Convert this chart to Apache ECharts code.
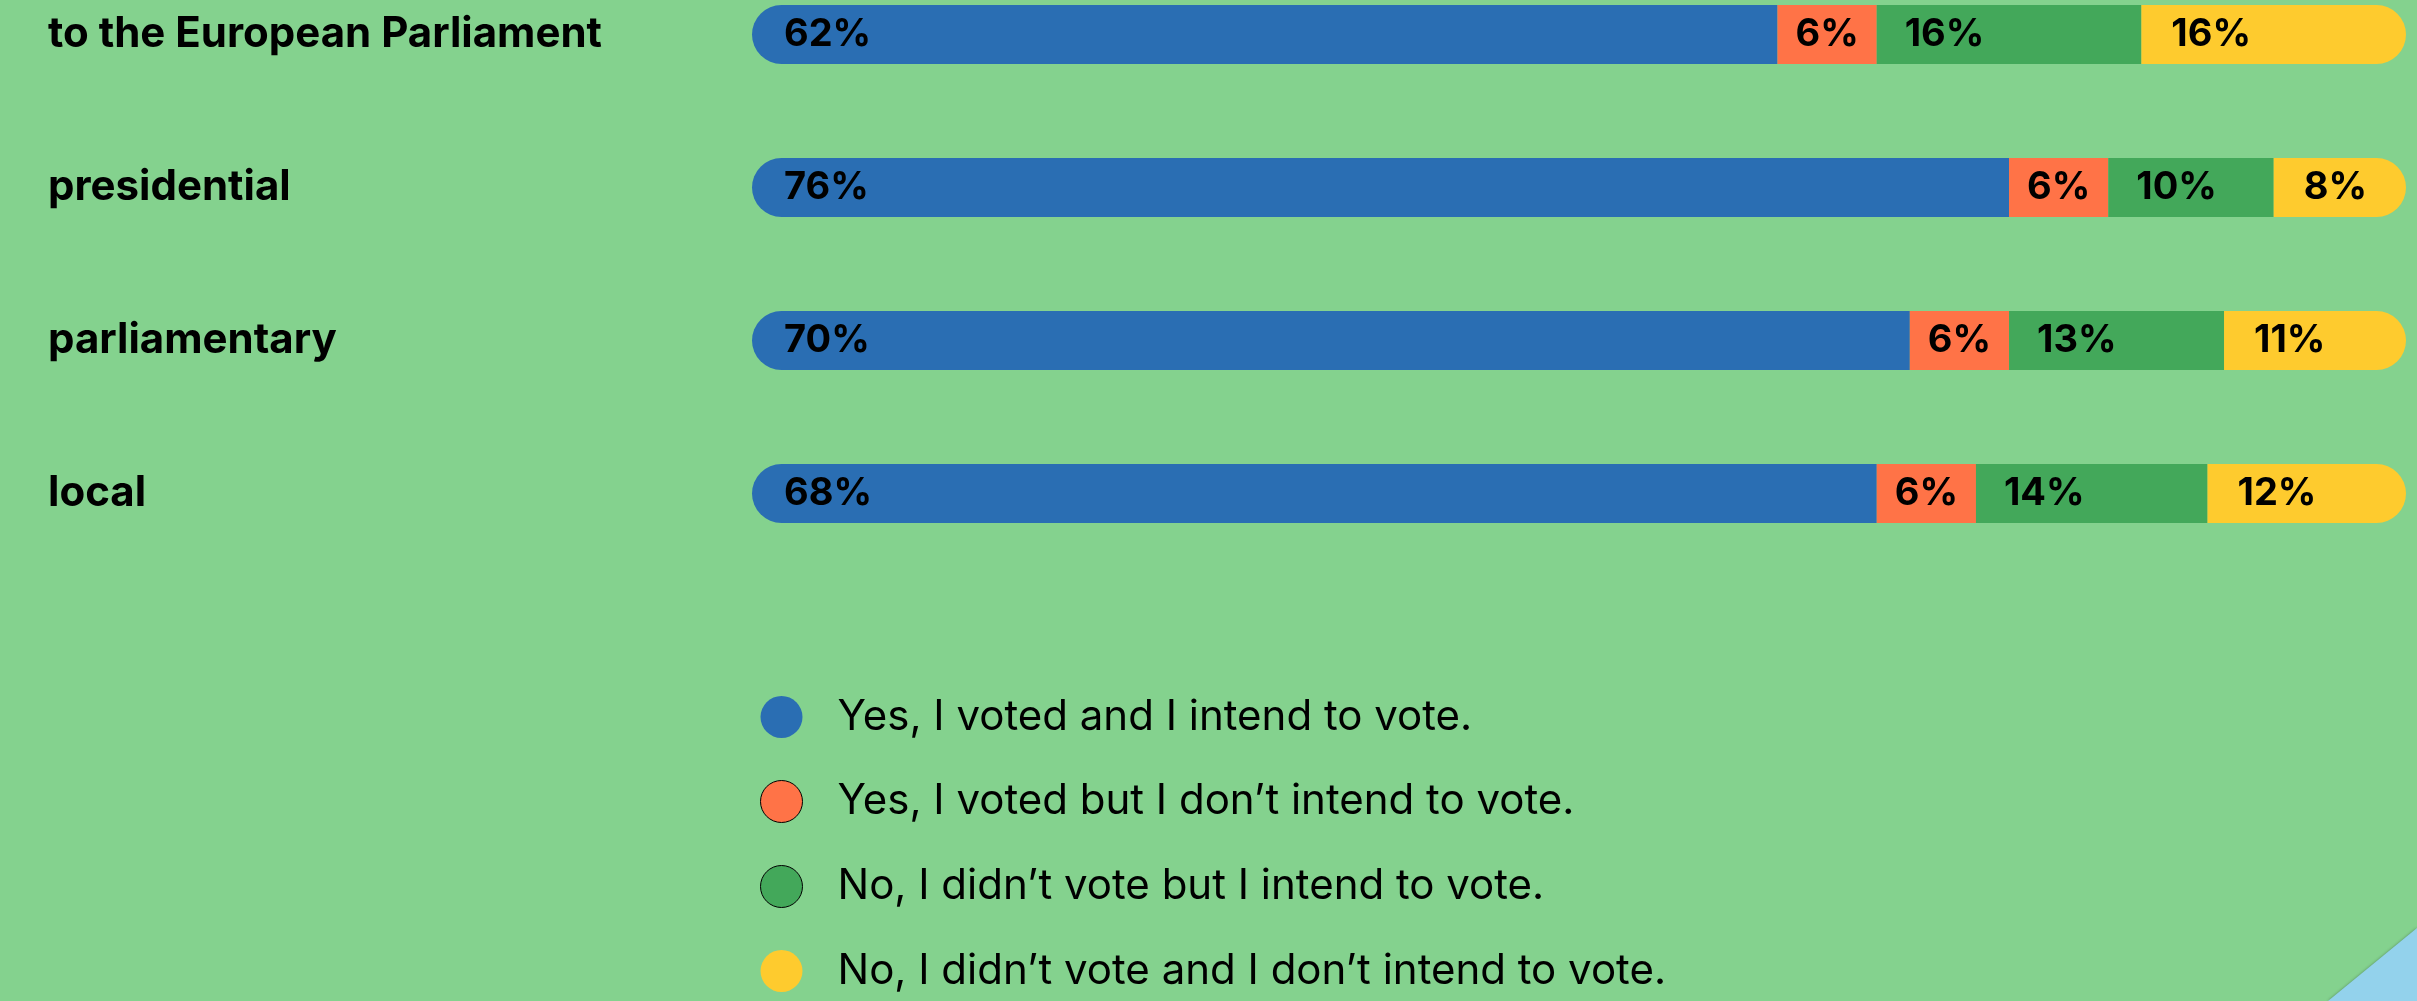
<!DOCTYPE html>
<html>
<head>
<meta charset="utf-8">
<script src="https://cdn.jsdelivr.net/npm/echarts@6/dist/echarts.min.js"></script>
<style>
html,body{margin:0;padding:0;background:#84D28E;}
#chart{width:2417px;height:1001px;}
</style>
</head>
<body>
<div id="chart"></div>
<script>
var categories = ['to the European Parliament', 'presidential', 'parliamentary', 'local'];
var seriesNames = [
  'Yes, I voted and I intend to vote.',
  'Yes, I voted but I don\u2019t intend to vote.',
  'No, I didn\u2019t vote but I intend to vote.',
  'No, I didn\u2019t vote and I don\u2019t intend to vote.'
];
var votedIntend = [62, 76, 70, 68];
var votedNotIntend = [6, 6, 6, 6];
var notVotedIntend = [16, 10, 13, 14];
var notVotedNotIntend = [16, 8, 11, 12];

var colors = ['#2A6EB3', '#FF7347', '#43A85A', '#FECB2E'];
var FONT = 'Inter, "Open Sans", sans-serif';

function mkLabel(dist) {
  return {
    show: true,
    position: 'insideLeft',
    distance: dist,
    formatter: '{c}%',
    color: '#000',
    fontFamily: FONT,
    fontWeight: 'bold',
    fontSize: 38
  };
}

var chart = echarts.init(document.getElementById('chart'));
chart.setOption({
  backgroundColor: '#84D28E',
  animation: false,
  graphic: [{
    type: 'polygon',
    shape: { points: [[2328, 1001], [2417, 928], [2417, 1001]] },
    style: { fill: '#93D2EC', shadowBlur: 3, shadowColor: 'rgba(0,0,0,0.35)' },
    z: 0
  }],
  grid: {
    left: 752,
    right: 11,
    top: -42,
    height: 612,
    containLabel: false,
    outerBoundsMode: 'none'
  },
  legend: {
    orient: 'vertical',
    left: 760,
    top: 696,
    height: 305,
    padding: 0,
    itemWidth: 42,
    itemHeight: 42,
    itemGap: 42,
    icon: 'circle',
    selectedMode: false,
    textStyle: {
      color: '#000',
      fontFamily: FONT,
      fontSize: 42,
      lineHeight: 42,
      padding: [0, 0, 0, 30]
    },
    data: [
      { name: seriesNames[0] },
      { name: seriesNames[1], itemStyle: { borderColor: '#000', borderWidth: 1 } },
      { name: seriesNames[2], itemStyle: { borderColor: '#000', borderWidth: 1 } },
      { name: seriesNames[3] }
    ]
  },
  xAxis: {
    type: 'value',
    min: 0,
    max: 100,
    show: false
  },
  yAxis: {
    type: 'category',
    inverse: true,
    data: categories,
    axisLine: { show: false },
    axisTick: { show: false },
    splitLine: { show: false },
    axisLabel: {
      align: 'left',
      margin: 704,
      color: '#000',
      fontFamily: FONT,
      fontWeight: 'bold',
      fontSize: 42
    }
  },
  series: [
    {
      name: seriesNames[0], type: 'bar', stack: 'total', barWidth: 59,
      data: votedIntend,
      itemStyle: { color: colors[0], borderRadius: [30, 0, 0, 30] },
      label: mkLabel(32)
    },
    {
      name: seriesNames[1], type: 'bar', stack: 'total', barWidth: 59,
      data: votedNotIntend,
      itemStyle: { color: colors[1] },
      label: mkLabel(18)
    },
    {
      name: seriesNames[2], type: 'bar', stack: 'total', barWidth: 59,
      data: notVotedIntend,
      itemStyle: { color: colors[2] },
      label: mkLabel(28)
    },
    {
      name: seriesNames[3], type: 'bar', stack: 'total', barWidth: 59,
      data: notVotedNotIntend,
      itemStyle: { color: colors[3], borderRadius: [0, 30, 30, 0] },
      label: mkLabel(30)
    }
  ]
});
</script>
</body>
</html>
